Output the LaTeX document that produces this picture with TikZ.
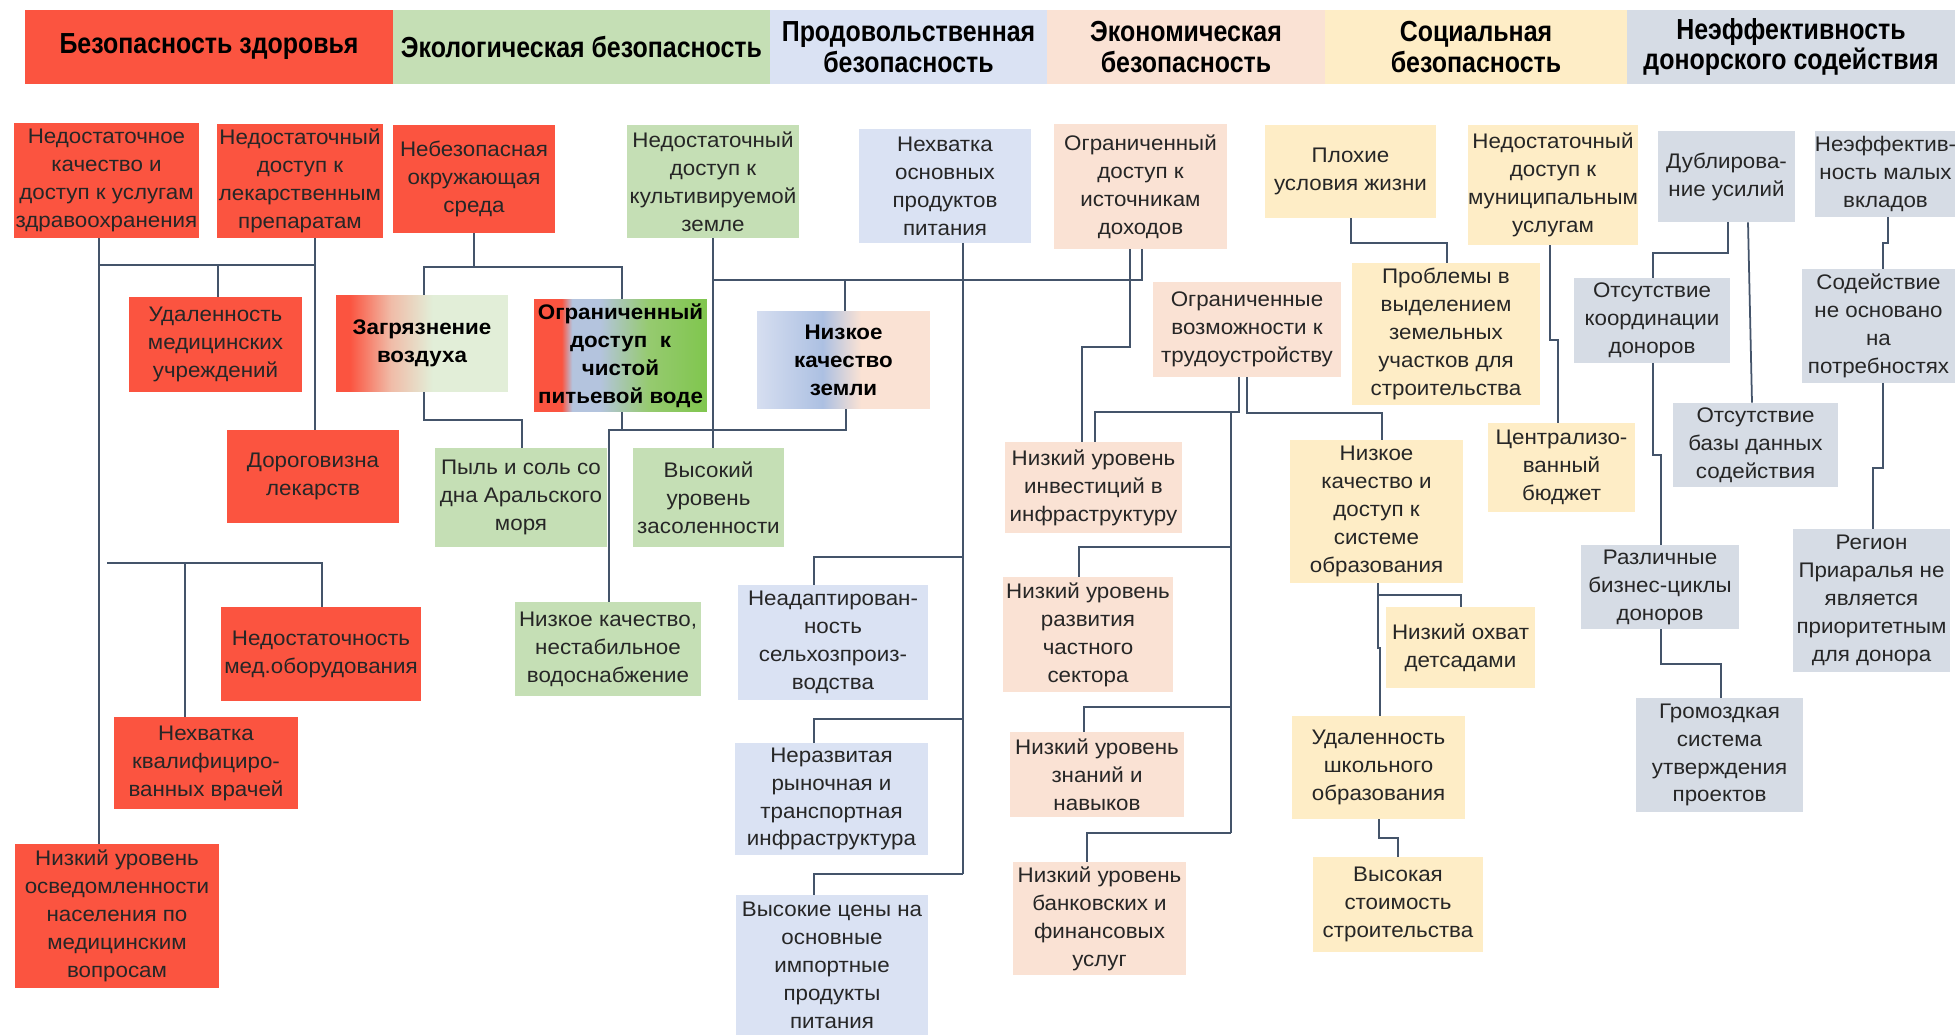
\documentclass[tikz,border=0pt]{standalone}
\usepackage{fontspec}
\setmainfont[FakeStretch=1.06]{Liberation Sans}
\newfontfamily\headfont[FakeStretch=0.86]{Liberation Sans}
\usepackage{tikz}
\usetikzlibrary{calc}
\definecolor{hred}{RGB}{251,84,64}
\definecolor{hgreen}{RGB}{197,223,181}
\definecolor{hblue}{RGB}{218,226,243}
\definecolor{hpeach}{RGB}{250,226,212}
\definecolor{hyellow}{RGB}{254,237,198}
\definecolor{hgray}{RGB}{214,220,229}
\definecolor{txt}{RGB}{38,38,38}
\definecolor{lnk}{RGB}{68,84,106}
\definecolor{airmid}{RGB}{240,188,168}
\definecolor{airpale}{RGB}{226,238,216}
\definecolor{wblue}{RGB}{180,196,222}
\definecolor{wgreen}{RGB}{150,202,112}
\definecolor{wgreendark}{RGB}{128,198,78}
\definecolor{sblue}{RGB}{214,222,240}
\definecolor{sbluedark}{RGB}{172,192,226}
\pgfdeclarehorizontalshading{airshade}{100bp}{color(0bp)=(hred); color(29bp)=(hred); color(41bp)=(airmid); color(53bp)=(airpale); color(100bp)=(airpale)}
\pgfdeclarehorizontalshading{watershade}{100bp}{color(0bp)=(hred); color(33bp)=(hred); color(36bp)=(wblue); color(44bp)=(wblue); color(58bp)=(wgreen); color(75bp)=(wgreendark); color(100bp)=(wgreendark)}
\pgfdeclarehorizontalshading{soilshade}{100bp}{color(0bp)=(sblue); color(25bp)=(sblue); color(44bp)=(sbluedark); color(55bp)=(hpeach); color(100bp)=(hpeach)}

\begin{document}
\begin{tikzpicture}[x=0.02cm,y=-0.02cm,
    box/.style={inner sep=0pt,align=center,text=txt,font=\fontsize{12}{15.9}\selectfont},
    boldbox/.style={inner sep=0pt,align=center,text=black,font=\fontsize{12}{15.9}\selectfont\bfseries},
    hbox/.style={inner sep=0pt,align=center,text=black,minimum height=1.48cm,font=\headfont\bfseries\fontsize{16.5}{17.5}\selectfont},
    health/.style={box,fill=hred},
    eco/.style={box,fill=hgreen},
    food/.style={box,fill=hblue},
    econ/.style={box,fill=hpeach},
    social/.style={box,fill=hyellow},
    donor/.style={box,fill=hgray},
    link/.style={draw=lnk,line width=1pt}]
    \fill[white](0,0) rectangle (1955,1035);
    \useasboundingbox(0,0) rectangle (1955,1035);
    % headers
    \node[hbox,fill=hred,minimum width=7.36cm](hhealth) at (209,47){Безопасность здоровья};
    \node[hbox,fill=hgreen,minimum width=7.54cm](heco) at (581.5,47){Экологическая безопасность};
    \node[hbox,fill=hblue,minimum width=5.54cm](hfood) at (908.5,47){Продовольственная\\безопасность};
    \node[hbox,fill=hpeach,minimum width=5.56cm](hecon) at (1186,47){Экономическая\\безопасность};
    \node[hbox,fill=hyellow,minimum width=6.04cm](hsoc) at (1476,47){Социальная\\безопасность};
    \node[hbox,fill=hgray,minimum width=6.56cm](hdon) at (1791,47){Неэффективность\\донорского содействия};
    % health
    \node[health,minimum width=3.7cm,minimum height=2.3cm](hq) at (106.5,180.5){Недостаточное\\качество и\\доступ к услугам\\здравоохранения};
    \node[health,minimum width=3.32cm,minimum height=2.28cm](hm) at (300,181){Недостаточный\\доступ к\\лекарственным\\препаратам};
    \node[health,minimum width=3.46cm,minimum height=1.9cm](fardist) at (215.5,344.5){Удаленность\\медицинских\\учреждений};
    \node[health,minimum width=3.44cm,minimum height=1.86cm](drugcost) at (313,476.5){Дороговизна\\лекарств};
    \node[health,minimum width=4cm,minimum height=1.88cm](equip) at (321,654){Недостаточность\\мед.оборудования};
    \node[health,minimum width=3.68cm,minimum height=1.84cm](doctors) at (206,763){Нехватка\\квалифициро-\\ванных врачей};
    \node[health,minimum width=4.08cm,minimum height=2.88cm](aware) at (117,916){Низкий уровень\\осведомленности\\населения по\\медицинским\\вопросам};
    % ecology
    \node[health,minimum width=3.24cm,minimum height=2.16cm](env) at (474,179){Небезопасная\\окружающая\\среда};
    \node[boldbox,shade,shading=airshade,minimum width=3.44cm,minimum height=1.94cm](air) at (422,343.5){Загрязнение\\воздуха};
    \node[boldbox,shade,shading=watershade,minimum width=3.46cm,minimum height=2.26cm](water) at (620.5,355.5){Ограниченный\\доступ~~к\\чистой\\питьевой воде};
    \node[eco,minimum width=3.44cm,minimum height=1.98cm](dust) at (521,497.5){Пыль и соль со\\дна Аральского\\моря};
    \node[eco,minimum width=3.44cm,minimum height=2.26cm](crop) at (713,181.5){Недостаточный\\доступ к\\культивируемой\\земле};
    \node[boldbox,shade,shading=soilshade,minimum width=3.46cm,minimum height=1.96cm](soil) at (843.5,360){Низкое\\качество\\земли};
    \node[eco,minimum width=3.02cm,minimum height=1.98cm](salt) at (708.5,497.5){Высокий\\уровень\\засоленности};
    \node[eco,minimum width=3.72cm,minimum height=1.88cm](supply) at (608,649){Низкое качество,\\нестабильное\\водоснабжение};
    % food
    \node[food,minimum width=3.44cm,minimum height=2.28cm](foodshort) at (945,186){Нехватка\\основных\\продуктов\\питания};
    \node[food,minimum width=3.8cm,minimum height=2.3cm](agri) at (833,642.5){Неадаптирован-\\ность\\сельхозпроиз-\\водства};
    \node[food,minimum width=3.86cm,minimum height=2.24cm](market) at (831.5,799){Неразвитая\\рыночная и\\транспортная\\инфраструктура};
    \node[food,minimum width=3.84cm,minimum height=2.8cm](prices) at (832,965){Высокие цены на\\основные\\импортные\\продукты\\питания};
    % economy
    \node[econ,minimum width=3.46cm,minimum height=2.5cm](income) at (1140.5,186.5){Ограниченный\\доступ к\\источникам\\доходов};
    \node[econ,minimum width=3.76cm,minimum height=1.9cm](jobs) at (1247,329.5){Ограниченные\\возможности к\\трудоустройству};
    \node[econ,minimum width=3.54cm,minimum height=1.82cm](invest) at (1093.5,487.5){Низкий уровень\\инвестиций в\\инфраструктуру};
    \node[econ,minimum width=3.4cm,minimum height=2.3cm](private) at (1088,634.5){Низкий уровень\\развития\\частного\\сектора};
    \node[econ,minimum width=3.48cm,minimum height=1.7cm](skills) at (1097,774.5){Низкий уровень\\знаний и\\навыков};
    \node[econ,minimum width=3.46cm,minimum height=2.26cm](bank) at (1099.5,918.5){Низкий уровень\\банковских и\\финансовых\\услуг};
    % social
    \node[social,minimum width=3.42cm,minimum height=1.86cm](living) at (1350.5,171.5){Плохие\\условия жизни};
    \node[social,minimum width=3.4cm,minimum height=2.4cm](munic) at (1553,185){Недостаточный\\доступ к\\муниципальным\\услугам};
    \node[social,minimum width=3.76cm,minimum height=2.84cm](land) at (1446,334){Проблемы в\\выделением\\земельных\\участков для\\строительства};
    \node[social,minimum width=2.94cm,minimum height=1.78cm](budget) at (1561.5,467.5){Централизо-\\ванный\\бюджет};
    \node[social,minimum width=3.46cm,minimum height=2.86cm](educ) at (1376.5,511.5){Низкое\\качество и\\доступ к\\системе\\образования};
    \node[social,minimum width=2.98cm,minimum height=1.62cm](kinder) at (1460.5,647.5){Низкий охват\\детсадами};
    \node[social,minimum width=3.46cm,minimum height=2.06cm](school) at (1378.5,767.5){Удаленность\\школьного\\образования};
    \node[social,minimum width=3.4cm,minimum height=1.9cm](build) at (1398,904.5){Высокая\\стоимость\\строительства};
    % donors
    \node[donor,minimum width=2.74cm,minimum height=1.82cm](dup) at (1726.5,176.5){Дублирова-\\ние усилий};
    \node[donor,minimum width=2.78cm,minimum height=1.72cm](small) at (1885.5,174){Неэффектив-\\ность малых\\вкладов};
    \node[donor,minimum width=3.12cm,minimum height=1.7cm](coord) at (1652,320.5){Отсутствие\\координации\\доноров};
    \node[donor,minimum width=3.06cm,minimum height=2.28cm](needs) at (1878.5,326){Содействие\\не основано\\на\\потребностях};
    \node[donor,minimum width=3.3cm,minimum height=1.68cm](database) at (1755.5,445){Отсутствие\\базы данных\\содействия};
    \node[donor,minimum width=3.16cm,minimum height=1.68cm](cycles) at (1660,587){Различные\\бизнес-циклы\\доноров};
    \node[donor,minimum width=3.14cm,minimum height=2.86cm](region) at (1871.5,600.5){Регион\\Приаралья не\\является\\приоритетным\\для донора};
    \node[donor,minimum width=3.34cm,minimum height=2.28cm](approve) at (1719.5,755){Громоздкая\\система\\утверждения\\проектов};

    % connectors: health
    \draw[link](99,0 |- hq.south)--(99,0 |- aware.north);
    \draw[link](99,265)--(315,265);
    \draw[link](315,0 |- hm.south)--(315,0 |- drugcost.north);
    \draw[link](218,265)--(218,0 |- fardist.north);
    \draw[link](322,0 |- equip.north)--(322,563)--(107,563);
    \draw[link](185,563)--(185,0 |- doctors.north);
    % ecology
    \draw[link](474,0 |- env.south)--(474,267);
    \draw[link](424,0 |- air.north)--(424,267)--(622,267)--(622,0 |- water.north);
    \draw[link](424,0 |- air.south)--(424,420)--(522,420)--(522,0 |- dust.north);
    \draw[link](622,0 |- water.south)--(622,430);
    \draw[link](609,0 |- supply.north)--(609,430)--(846,430)--(846,0 |- soil.south);
    \draw[link](713,0 |- crop.south)--(713,0 |- salt.north);
    \draw[link](713,280)--(1142,280)--(1142,0 |- income.south);
    \draw[link](845,280)--(845,0 |- soil.north);
    % food
    \draw[link](963,0 |- foodshort.south)--(963,874);
    \draw[link](963,557)--(814,557)--(814,0 |- agri.north);
    \draw[link](963,719)--(814,719)--(814,0 |- market.north);
    \draw[link](963,874)--(814,874)--(814,0 |- prices.north);
    % economy
    \draw[link](1130,0 |- income.south)--(1130,347)--(1082,347)--(1082,0 |- invest.north);
    \draw[link](1239,0 |- jobs.south)--(1239,412)--(1095,412)--(1095,0 |- invest.north);
    \draw[link](1247,0 |- jobs.south)--(1247,413)--(1382,413)--(1382,0 |- educ.north);
    \draw[link](1231,412)--(1231,833);
    \draw[link](1231,547)--(1079,547)--(1079,0 |- private.north);
    \draw[link](1231,707)--(1084,707)--(1084,0 |- skills.north);
    \draw[link](1231,833)--(1087,833)--(1087,0 |- bank.north);
    % social
    \draw[link](1351,0 |- living.south)--(1351,243)--(1447,243)--(1447,0 |- land.north);
    \draw[link](1550,0 |- munic.south)--(1550,340)--(1558,340)--(1558,0 |- budget.north);
    \draw[link](1378,0 |- educ.south)--(1378,648)--(1380,648)--(1380,0 |- school.north);
    \draw[link](1378,595)--(1461,595)--(1461,0 |- kinder.north);
    \draw[link](1379,0 |- school.south)--(1379,838)--(1398,838)--(1398,0 |- build.north);
    % donors
    \draw[link](1728,0 |- dup.south)--(1728,253)--(1653,253)--(1653,0 |- coord.north);
    \draw[link](1748,0 |- dup.south)--(1752,0 |- database.north);
    \draw[link](1653,0 |- coord.south)--(1653,455)--(1661,455)--(1661,0 |- cycles.north);
    \draw[link](1661,0 |- cycles.south)--(1661,664)--(1721,664)--(1721,0 |- approve.north);
    \draw[link](1888,0 |- small.south)--(1888,243)--(1883,243)--(1883,0 |- needs.north);
    \draw[link](1883,0 |- needs.south)--(1883,468)--(1873,468)--(1873,0 |- region.north);
  \end{tikzpicture}
\end{document}
